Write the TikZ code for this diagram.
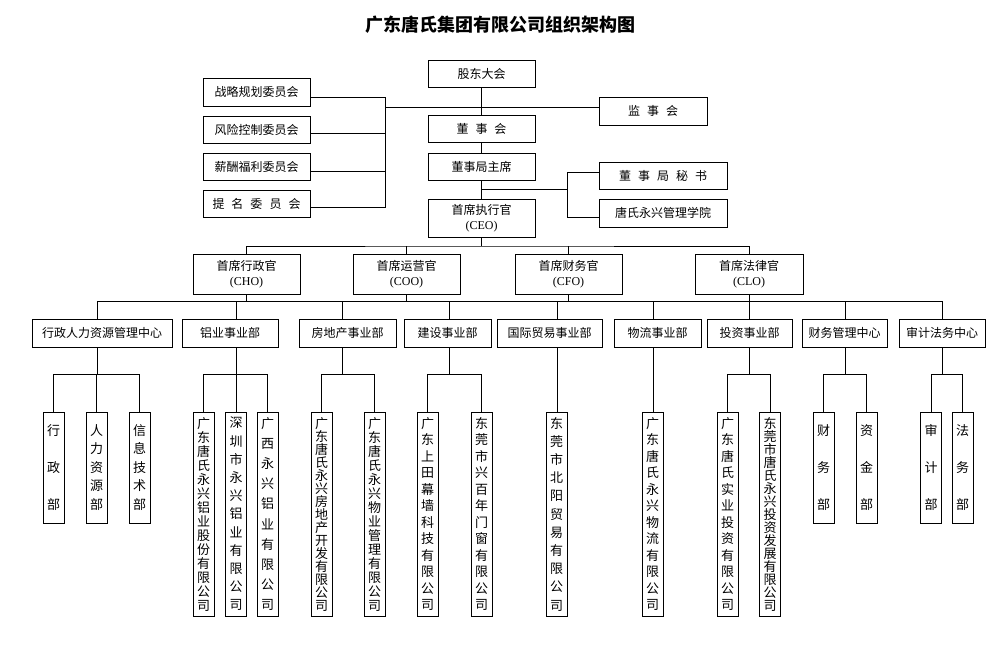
\documentclass[tikz,border=0pt]{standalone}
\usepackage{fontspec}
\setmainfont{Liberation Serif}
\newfontfamily\cjk{Noto Sans CJK SC}
\newcommand\gp{\hspace{7pt}}
% vertical stacking of characters: #1 = baseline skip, #2 = characters
\newcommand\vstack[2]{\vbox{\baselineskip=#1\lineskiplimit=-\maxdimen\lineskip=0pt\relax\vstackA#2\relax}}
\def\vstackA#1{\ifx\relax#1\else\hbox{#1}\expandafter\vstackA\fi}
\tikzset{
  box/.style={draw, line width=1pt, inner sep=0pt, align=center,
    font=\cjk\fontsize{12}{15}\selectfont},
  vbox/.style={box, minimum width=21pt, font=\cjk\fontsize{13}{15}\selectfont},
  longv/.style={vbox, minimum height=204pt},
  shortv/.style={vbox, minimum height=111pt},
  ln/.style={line width=0.9pt},
}
\begin{document}
\begin{tikzpicture}[x=1pt,y=-1pt]
\useasboundingbox (0,0) rectangle (1000,653);
\fill[white] (0,0) rectangle (1000,653);
% title
\node[font=\cjk\bfseries\fontsize{18}{20}\selectfont] (title) at (500,25) {广东唐氏集团有限公司组织架构图};
% top level
\node[box, minimum width=107pt, minimum height=27pt] (gd) at (481.5,73.5) {股东大会};
\node[box, minimum width=107pt, minimum height=27pt] (dsh) at (481.5,128.5) {董\gp 事\gp 会};
\node[box, minimum width=107pt, minimum height=27pt] (zx) at (481.5,166.5) {董事局主席};
\node[box, minimum width=107pt, minimum height=38pt] (ceo) at (481.5,218) {首席执行官\\{\rmfamily (CEO)}};
\node[box, minimum width=108pt, minimum height=28pt] (jsh) at (653,111) {监\gp 事\gp 会};
\node[box, minimum width=128pt, minimum height=27pt] (ms) at (663,175.5) {董\gp 事\gp 局\gp 秘\gp 书};
\node[box, minimum width=128pt, minimum height=28pt] (xy) at (663,213) {唐氏永兴管理学院};
% committees
\node[box, minimum width=107pt, minimum height=28pt] (c1) at (256.5,92) {战略规划委员会};
\node[box, minimum width=107pt, minimum height=27pt] (c2) at (256.5,129.5) {风险控制委员会};
\node[box, minimum width=107pt, minimum height=27pt] (c3) at (256.5,166.5) {薪酬福利委员会};
\node[box, minimum width=107pt, minimum height=27pt] (c4) at (256.5,203.5) {提\gp 名\gp 委\gp 员\gp 会};
% chiefs
\node[box, minimum width=107pt, minimum height=40pt] (cho) at (246.5,274) {首席行政官\\{\rmfamily (CHO)}};
\node[box, minimum width=107pt, minimum height=40pt] (coo) at (406.5,274) {首席运营官\\{\rmfamily (COO)}};
\node[box, minimum width=107pt, minimum height=40pt] (cfo) at (568.5,274) {首席财务官\\{\rmfamily (CFO)}};
\node[box, minimum width=108pt, minimum height=40pt] (clo) at (749,274) {首席法律官\\{\rmfamily (CLO)}};
% second row
\node[box, minimum width=140pt, minimum height=28pt] (hr) at (102,333) {行政人力资源管理中心};
\node[box, minimum width=96pt, minimum height=28pt] (alu) at (230,333) {铝业事业部};
\node[box, minimum width=97pt, minimum height=28pt] (re) at (347.5,333) {房地产事业部};
\node[box, minimum width=87pt, minimum height=28pt] (jz) at (447.5,333) {建设事业部};
\node[box, minimum width=105pt, minimum height=28pt] (gm) at (549.5,333) {国际贸易事业部};
\node[box, minimum width=87pt, minimum height=28pt] (wl) at (657.5,333) {物流事业部};
\node[box, minimum width=85pt, minimum height=28pt] (tz) at (749.5,333) {投资事业部};
\node[box, minimum width=85pt, minimum height=28pt] (cw) at (844.5,333) {财务管理中心};
\node[box, minimum width=86pt, minimum height=28pt] (sj) at (942,333) {审计法务中心};
% third row
\node[shortv] (k1) at (53.5,467.5) {\vstack{37pt}{行政部}};
\node[shortv] (k2) at (96.5,467.5) {\vstack{18.5pt}{人力资源部}};
\node[shortv] (k3) at (139.5,467.5) {\vstack{18.5pt}{信息技术部}};
\node[longv] (l1) at (203.5,514) {\vstack{14pt}{广东唐氏永兴铝业股份有限公司}};
\node[longv] (l2) at (236,514) {\vstack{18.2pt}{深圳市永兴铝业有限公司}};
\node[longv] (l3) at (267.5,514) {\vstack{20.2pt}{广西永兴铝业有限公司}};
\node[longv] (r1) at (321.5,514) {\vstack{13pt}{广东唐氏永兴房地产开发有限公司}};
\node[longv] (r2) at (374.5,514) {\vstack{14pt}{广东唐氏永兴物业管理有限公司}};
\node[longv] (j1) at (427.5,514) {\vstack{16.5pt}{广东上田幕墙科技有限公司}};
\node[longv] (j2) at (481.5,514) {\vstack{16.5pt}{东莞市兴百年门窗有限公司}};
\node[longv] (g1) at (556.5,514) {\vstack{18.2pt}{东莞市北阳贸易有限公司}};
\node[longv] (w1) at (652.5,514) {\vstack{16.5pt}{广东唐氏永兴物流有限公司}};
\node[longv] (t1) at (727.5,514) {\vstack{16.5pt}{广东唐氏实业投资有限公司}};
\node[longv] (t2) at (770,514) {\vstack{13pt}{东莞市唐氏永兴投资发展有限公司}};
\node[shortv] (f1) at (823.5,467.5) {\vstack{37pt}{财务部}};
\node[shortv] (f2) at (866.5,467.5) {\vstack{37pt}{资金部}};
\node[shortv] (s1) at (931,467.5) {\vstack{37pt}{审计部}};
\node[shortv] (s2) at (962.5,467.5) {\vstack{37pt}{法务部}};

% ---- connectors ----
\coordinate (cb) at (385,107);
\coordinate (c1e) at ([yshift=-5pt]c1.east);
\coordinate (c2e) at ([yshift=-3.5pt]c2.east);
\coordinate (c3e) at ([yshift=-4.5pt]c3.east);
\coordinate (c4e) at ([yshift=-3.5pt]c4.east);
\draw[ln] (c1e) -| (cb |- c4e) -- (c4e);
\draw[ln] (c2e) -- (c2e -| cb);
\draw[ln] (c3e) -- (c3e -| cb);
\draw[ln] (cb) -- (cb -| jsh.west);
\draw[ln] (gd) -- (dsh);
\draw[ln] (dsh) -- (zx);
\draw[ln] (zx) -- (ceo);
\coordinate (br) at (567,189);
\coordinate (msw) at ([yshift=3.5pt]ms.west);
\coordinate (xyw) at ([yshift=-4.5pt]xy.west);
\draw[ln] (zx.south |- br) -- (br);
\draw[ln] (msw) -| (br |- xyw) -- (xyw);
% chiefs
\coordinate (bus1) at (481.5,246);
\draw[ln] (ceo) -- (bus1);
\draw[ln] (cho.north) |- (bus1) -| (clo.north);
\draw[ln] (coo.north) -- (coo.north |- bus1);
\draw[ln] (cfo.north) -- (cfo.north |- bus1);
\coordinate (bus2) at (500,301);
\foreach \c in {cho,coo,cfo,clo} \draw[ln] (\c.south) -- (\c.south |- bus2);
% second row connection points
\foreach \n/\d in {hr/-5,alu/6,re/-5.5,jz/1.5,gm/7.5,wl/-4.5,tz/-0.5,cw/0.5,sj/0}{
  \coordinate (\n t) at ([xshift=\d pt]\n.north);
  \coordinate (\n b) at ([xshift=\d pt]\n.south);
  \draw[ln] (\n t) -- (\n t |- bus2);
}
\draw[ln] (hrt |- bus2) -- (sjt |- bus2);
% third row
\coordinate (b3) at (500,374);
\foreach \n in {hr,alu,re,jz,tz,cw,sj} \draw[ln] (\n b) -- (\n b |- b3);
\draw[ln] (k1.north) |- (b3 -| k3.north) -- (k3.north);
\draw[ln] (k2.north) -- (k2.north |- b3);
\draw[ln] (l1.north) |- (b3 -| l3.north) -- (l3.north);
\draw[ln] (l2.north) -- (l2.north |- b3);
\draw[ln] (r1.north) |- (b3 -| r2.north) -- (r2.north);
\draw[ln] (j1.north) |- (b3 -| j2.north) -- (j2.north);
\draw[ln] (t1.north) |- (b3 -| t2.north) -- (t2.north);
\draw[ln] (f1.north) |- (b3 -| f2.north) -- (f2.north);
\draw[ln] (s1.north) |- (b3 -| s2.north) -- (s2.north);
\draw[ln] (gmb) -- (gmb |- g1.north);
\draw[ln] (wlb) -- (wlb |- w1.north);
\end{tikzpicture}
\end{document}
